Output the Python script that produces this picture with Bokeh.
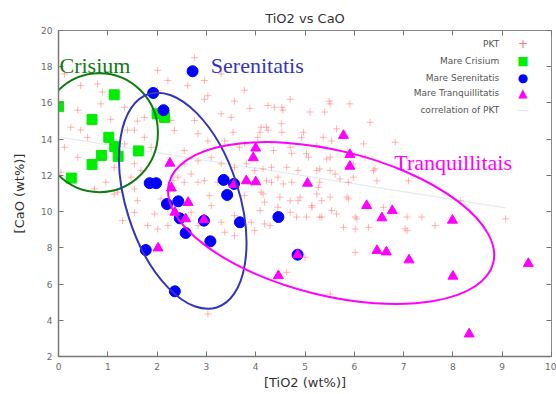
import numpy as np
from math import pi, radians
from bokeh.plotting import figure
from bokeh.models import Label, LinearAxis, FixedTicker, Range1d
from bokeh.embed import file_html
from bokeh.resources import INLINE

# ---------------- data ----------------
x_ticks = [0, 1, 2, 3, 4, 5, 6, 7, 8, 9, 10]
y_ticks = [2, 4, 6, 8, 10, 12, 14, 16, 18, 20]

pkt_x = [0.12, 0.45, 0.79, 0.89, 0.39, 0.25, 0.45, 0.59, 0.86, 1.06, 1.34, 1.40, 1.54, 1.60, 1.74, 1.74,
         1.34, 1.54, 1.13, 0.39, 0.12, 1.88, 2.01, 2.01, 2.22, 2.28, 2.35, 2.55, 2.62, 2.76, 2.96, 2.96,
         3.03, 2.76, 2.83, 3.03, 2.55, 2.83, 3.30, 3.30, 3.50, 3.57, 3.77, 3.88, 4.11, 4.25, 4.04, 4.38,
         4.52, 3.67, 3.10, 3.30, 3.57, 3.98, 4.32, 4.45, 1.47, 1.67, 2.69, 2.42,
         4.70, 5.10, 5.40, 5.91, 6.32, 5.64, 4.93, 5.37, 5.24, 5.54, 6.19, 4.73, 5.07, 5.44, 6.22, 6.83,
         6.42, 4.86, 5.24, 5.61, 5.98, 4.55, 5.49,
         7.10, 8.15, 7.07, 7.37, 7.64, 7.03, 6.59, 9.07,
         4.25, 4.53, 5.51, 4.22, 4.53, 4.09, 3.54, 4.97, 3.37, 3.78, 4.36, 4.70, 5.03, 5.51, 3.81, 4.15,
         4.63, 5.30, 5.51, 4.22, 4.56, 5.30, 5.71, 5.98, 6.39, 4.15, 4.49, 4.90, 5.24, 5.51, 5.85, 5.14,
         5.30, 4.09, 4.29, 4.83, 5.64, 6.05,
         4.73, 5.27, 5.88, 6.46, 4.70, 4.86, 5.14, 5.34, 5.88, 4.70, 5.03, 5.34, 5.54, 6.02, 5.78, 6.02,
         6.29, 7.07, 6.02, 5.00, 4.63, 5.51,
         0.96, 0.73, 1.20, 1.54, 1.60, 1.54, 1.30, 1.95, 1.81, 2.01, 2.22, 2.22, 2.08, 2.32, 2.55, 2.83,
         2.96, 2.69, 2.83, 3.10, 3.06, 3.30, 3.37, 3.57, 3.57, 3.23, 3.91, 3.98, 4.18, 4.32, 4.18, 4.45,
         3.77, 4.11, 3.03, 1.13, 0.05]
pkt_y = [17.60, 16.96, 17.05, 16.60, 15.60, 14.66, 14.50, 14.10, 15.95, 15.10, 15.76, 14.50, 14.50, 15.00, 15.20, 14.10,
         13.74, 12.64, 12.45, 13.00, 13.55, 13.55, 16.70, 17.80, 17.24, 15.03, 14.47, 13.37, 16.96, 18.50, 17.24, 16.20,
         16.40, 15.03, 14.30, 13.90, 12.64, 12.80, 17.60, 15.40, 15.20, 16.10, 16.70, 15.70, 14.66, 14.50, 14.10, 15.76,
         14.85, 13.55, 13.00, 12.64, 12.45, 12.27, 12.45, 11.90, 11.90, 12.27, 12.08, 11.90,
         16.20, 15.50, 15.50, 15.95, 14.93, 14.57, 14.10, 14.10, 13.65, 13.90, 13.74, 13.20, 13.00, 12.90, 13.00, 13.83,
         12.36, 12.27, 12.27, 12.08, 12.64, 15.60, 16.10,
         11.70, 10.60, 9.70, 9.70, 9.23, 9.05, 10.24, 9.60,
         15.86, 15.76, 15.95, 14.66, 14.38, 14.38, 14.38, 14.38, 13.90, 13.74, 13.37, 13.55, 13.20, 13.00, 12.64, 12.36,
         12.45, 12.36, 12.27, 11.70, 11.53, 11.62, 11.80, 11.90, 12.27, 10.97, 10.80, 10.80, 10.97, 10.80, 10.80, 10.24,
         9.70, 10.06, 9.23, 9.70, 9.87, 9.60,
         11.62, 11.34, 11.62, 11.70, 10.60, 10.60, 10.33, 10.60, 10.70, 9.96, 9.70, 9.70, 10.06, 9.70, 9.13, 9.04,
         9.13, 8.95, 7.75, 7.48, 6.65, 5.45,
         11.62, 11.25, 11.07, 11.25, 10.60, 9.96, 9.50, 9.87, 9.23, 9.04, 9.23, 10.15, 10.70, 11.70, 11.62, 11.62,
         11.70, 9.96, 9.23, 10.33, 10.88, 9.41, 8.86, 8.67, 9.78, 11.62, 9.41, 8.95, 9.32, 11.62, 10.52, 10.24,
         10.88, 11.07, 4.35, 10.97, 12.17]

crisium_x = [0.00, 1.13, 0.68, 2.00, 2.15, 1.02, 1.14, 1.21, 0.87, 1.62, 0.68, 0.26]
crisium_y = [15.80, 16.45, 15.08, 15.40, 15.20, 14.10, 13.60, 13.05, 13.10, 13.35, 12.60, 11.85]

serenitatis_x = [2.72, 1.92, 2.13, 1.85, 1.98, 3.35, 3.42, 3.56, 2.43, 2.20, 2.46, 2.95, 3.68, 2.58, 3.08, 1.77, 2.36, 4.46, 4.85]
serenitatis_y = [17.75, 16.55, 15.60, 11.57, 11.57, 11.75, 10.92, 11.53, 10.57, 10.42, 9.63, 9.50, 9.41, 8.82, 8.36, 7.88, 5.60, 9.70, 7.62]

tranq_x = [2.26, 4.00, 3.95, 3.81, 4.00, 3.56, 5.78, 5.91, 5.91, 5.05, 2.29, 2.63, 2.36, 2.58, 2.95, 2.02, 6.25, 6.56,
           6.77, 7.99, 6.46, 6.65, 7.11, 8.00, 9.53, 8.33, 4.46, 4.85]
tranq_y = [12.67, 13.50, 12.97, 11.70, 11.64, 11.50, 14.20, 13.15, 12.50, 11.56, 11.30, 10.50, 9.96, 9.60, 9.55, 7.99, 10.33, 9.65,
           10.05, 9.52, 7.85, 7.77, 7.33, 6.43, 7.13, 3.24, 6.46, 7.62]

group_names = ["Crisium", "Serenitatis", "Tranquillitais"]
group_colors = ["#117a11", "#3535bb", "#ff00ff"]
ell_x = [0.83, 2.52, 5.53]
ell_y = [14.36, 10.60, 9.37]
ell_w = [117, 224, 334]      # screen px
ell_h = [119, 113, 145]      # screen px
ell_angle = [0.0, -72.3, -13.8]  # degrees
name_x = [0.02, 3.09, 6.81]
name_y = [18.07, 18.07, 12.71]

legend_labels = ["PKT", "Mare Crisium", "Mare Serenitatis", "Mare Tranquillitatis", "correlation of PKT"]

# ---------------- figure ----------------
p = figure(width=556, height=394, x_range=Range1d(0, 10), y_range=Range1d(2, 20),
           output_backend="svg", toolbar_location=None,
           title="TiO2 vs CaO",
           x_axis_label="[TiO2 (wt%)]", y_axis_label="[CaO (wt%)]",
           min_border_left=58, min_border_right=5, min_border_top=30, min_border_bottom=38,
           background_fill_color="white", border_fill_color="white",
           outline_line_color="#8a8a8a", outline_line_width=1)
p.xgrid.visible = False
p.ygrid.visible = False

p.title.align = "center"
p.title.text_font = "DejaVu Sans"
p.title.text_font_size = "13px"
p.title.text_font_style = "normal"
p.title.text_color = "#333333"
p.title.standoff = 10

for ax, ticks in ((p.xaxis, x_ticks), (p.yaxis, y_ticks)):
    ax.ticker = FixedTicker(ticks=ticks)
    ax.major_tick_in = 5
    ax.major_tick_out = 0
    ax.minor_tick_line_color = None
    ax.major_tick_line_color = "#777777"
    ax.axis_line_color = "#7a7a7a"
    ax.axis_line_width = 1.5
    ax.major_label_text_font_size = "9px"
    ax.major_label_text_color = "#6a6a6a"
    ax.major_label_text_font = "DejaVu Sans"
    ax.major_label_standoff = 6
    ax.axis_label_text_font = "DejaVu Sans"
    ax.axis_label_text_font_size = "13px"
    ax.axis_label_text_font_style = "normal"
    ax.axis_label_text_color = "#333333"
p.xaxis.axis_label_standoff = 2
p.yaxis.axis_label_standoff = 11

top_ax = LinearAxis(ticker=FixedTicker(ticks=x_ticks), major_label_text_font_size="1px",
                    major_label_text_color=None,
                    major_tick_in=5, major_tick_out=0, minor_tick_line_color=None,
                    axis_line_color=None, major_tick_line_color="#777777", major_label_standoff=0)
right_ax = LinearAxis(ticker=FixedTicker(ticks=y_ticks), major_label_text_font_size="1px",
                      major_label_text_color=None,
                      major_tick_in=5, major_tick_out=0, minor_tick_line_color=None,
                      axis_line_color=None, major_tick_line_color="#777777", major_label_standoff=0)
p.add_layout(top_ax, "above")
p.add_layout(right_ax, "right")

# correlation of PKT (least-squares fit of the PKT points)
slope, intercept = np.polyfit(pkt_x, pkt_y, 1)
cx = np.array([min(pkt_x), max(pkt_x)])
p.line(cx, intercept + slope * cx, line_color="#e4ebef", line_width=1.2)

p.scatter(pkt_x, pkt_y, marker="cross", size=7, line_color="#ff7070", line_alpha=0.5, line_width=1)
p.scatter(crisium_x, crisium_y, marker="square", size=10, fill_color="#00ee00", line_color="#00ee00")
p.scatter(serenitatis_x, serenitatis_y, marker="circle", size=11, fill_color="#0000ff", line_color="#0000ff")
p.scatter(tranq_x, tranq_y, marker="triangle", size=10, fill_color="#ff00ff", line_color="#ff00ff")

for i in range(3):
    p.ellipse(x=ell_x[i], y=ell_y[i], width=ell_w[i], height=ell_h[i], angle=radians(ell_angle[i]),
              width_units="screen", height_units="screen", fill_color=None,
              line_color=group_colors[i], line_width=2)
    p.add_layout(Label(x=name_x[i], y=name_y[i], text=group_names[i], text_color=group_colors[i],
                       text_font="Liberation Serif", text_font_size="22px",
                       text_align="left", text_baseline="alphabetic"))

# legend (text right-aligned, key symbol to the right, as in the original)
leg_y = [19.27, 18.29, 17.36, 16.54, 15.62]
leg_sym = ["+", "\u25A0", "\u25CF", "\u25B2", "\u2014"]
leg_sym_col = ["#ff6f6f", "#00ee00", "#0000ff", "#ff00ff", "#e4ebef"]
for lab, ly, sym, sc in zip(legend_labels, leg_y, leg_sym, leg_sym_col):
    p.add_layout(Label(x=8.94, y=ly, text=lab, text_align="right", text_baseline="middle",
                       text_font="DejaVu Sans", text_font_size="9px", text_color="#555555"))
    p.add_layout(Label(x=9.42, y=ly, text=sym, text_align="center", text_baseline="middle",
                       text_font="DejaVu Sans", text_font_size="12px", text_color=sc))

open("out.html", "w").write(file_html(p, INLINE))
